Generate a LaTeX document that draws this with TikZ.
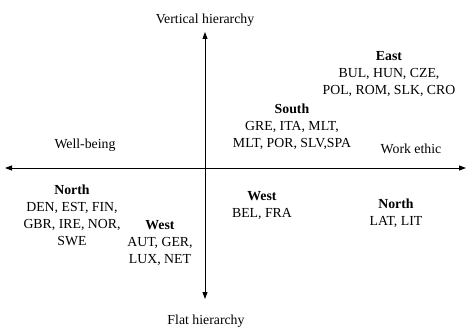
\documentclass[tikz,border=0pt]{standalone}
\usepackage{fontspec}
\setmainfont{Liberation Serif}
\usetikzlibrary{arrows.meta}
\begin{document}
\begin{tikzpicture}[x=1pt,y=-1pt,
  lbl/.style={font=\fontsize{13.8}{17}\selectfont, inner sep=0pt},
  grp/.style={lbl, align=center},
  axis/.style={line width=0.9pt, -{Triangle[length=7pt,width=5pt]}}]
\useasboundingbox (0,0) rectangle (469,329);
\coordinate (top) at (205,32);
\coordinate (bot) at (205,299);
\coordinate (left) at (5,168);
\coordinate (right) at (466,168);
\coordinate (org) at (205,168);
\draw[axis] (org) -- (top);
\draw[axis] (org) -- (bot);
\draw[axis] (org) -- (left);
\draw[axis] (org) -- (right);
\node[lbl] (vh) at (205,20) {Vertical hierarchy};
\node[lbl] (fh) at (206,321) {Flat hierarchy};
\node[lbl] (wb) at (85,145) {Well-being};
\node[lbl] (we) at (411,149) {Work ethic};
\node[grp] (east) at (389,74) {\textbf{East}\\BUL, HUN, CZE,\\POL, ROM, SLK, CRO};
\node[grp] (south) at (292,127) {\textbf{South}\\GRE, ITA, MLT,\\MLT, POR, SLV,SPA};
\node[grp] (northl) at (72,215) {\textbf{North}\\DEN, EST, FIN,\\GBR, IRE, NOR,\\SWE};
\node[grp] (westl) at (160,243) {\textbf{West}\\AUT, GER,\\LUX, NET};
\node[grp] (westm) at (262,206) {\textbf{West}\\BEL, FRA};
\node[grp] (northr) at (396,213) {\textbf{North}\\LAT, LIT};
\end{tikzpicture}
\end{document}
